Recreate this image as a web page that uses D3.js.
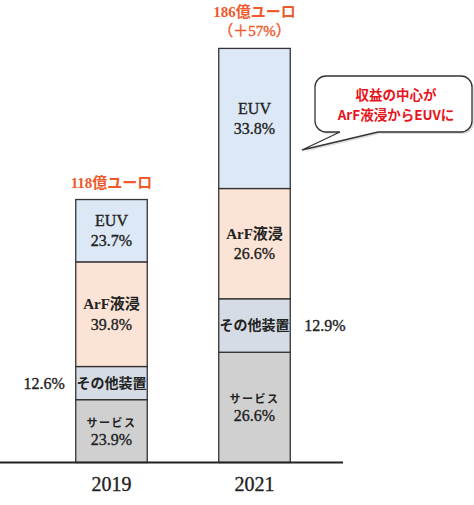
<!DOCTYPE html>
<html>
<head>
<meta charset="utf-8">
<script src="https://cdn.jsdelivr.net/npm/d3@7"></script>
<style>
  html, body { margin: 0; padding: 0; background: #fff; }
  svg { display: block; }
  text { font-family: "Liberation Serif", "Noto Sans CJK JP", serif; }
  .heavy { stroke: #222; stroke-width: 0.35px; }
</style>
</head>
<body>
<script>
'use strict';
// years and totals (億ユーロ)
const years = ['2019', '2021'];
const totals = [118, 186];
const totalLabels = [['118億ユーロ'], ['186億ユーロ', '（＋57%）']];

// segments, bottom to top, share in %
const segments = ['サービス', 'その他装置', 'ArF液浸', 'EUV'];
const share2019 = [23.9, 12.6, 39.8, 23.7];
const share2021 = [26.6, 12.9, 26.6, 33.8];
const colors = ['#d0d0d0', '#d6dce5', '#fbe4d5', '#dce8f5'];

const calloutLines = ['収益の中心が', 'ArF液浸からEUVに'];

const width = 474, height = 505;
const svg = d3.select('body').append('svg').attr('width', width).attr('height', height);

const x = d3.scaleBand().domain(years).range([40, 326]).paddingInner(0.5).paddingOuter(0.25);
const y = d3.scaleLinear().domain([0, 186]).range([462.5, 48]);

const shares = [share2019, share2021];
const rows = [];
years.forEach(function(yr, i){
  let base = 0;
  shares[i].forEach(function(p, j){
    const v = totals[i] * p / 100;
    rows.push({year: yr, seg: segments[j], pct: p, y0: base, y1: base + v, k: j, i: i});
    base += v;
  });
});

const bars = svg.append('g');
bars.selectAll('rect').data(rows).enter().append('rect')
  .attr('x', function(d){ return x(d.year); })
  .attr('y', function(d){ return y(d.y1); })
  .attr('width', x.bandwidth())
  .attr('height', function(d){ return y(d.y0) - y(d.y1); })
  .attr('fill', function(d){ return colors[d.k]; })
  .attr('stroke', '#333')
  .attr('stroke-width', 1.3);

// labels inside / beside bars
const lab = svg.append('g').attr('fill', '#222').attr('text-anchor', 'middle');
rows.forEach(function(d){
  const cx = x(d.year) + x.bandwidth() / 2;
  const cy = (y(d.y0) + y(d.y1)) / 2;
  const pctTxt = d.pct.toFixed(1) + '%';
  if (d.seg === 'その他装置') {
    lab.append('text').attr('x', cx).attr('y', cy).attr('dy', '0.35em')
      .attr('font-size', 14).attr('font-weight', 'bold').text(d.seg);
    const ox = d.i === 0 ? x(d.year) - 11 : x(d.year) + x.bandwidth() + 14;
    lab.append('text').attr('class', 'heavy').attr('x', ox).attr('y', cy).attr('dy', '0.35em')
      .attr('text-anchor', d.i === 0 ? 'end' : 'start')
      .attr('font-size', 16).text(pctTxt);
  } else if (d.seg === 'サービス') {
    lab.append('text').attr('x', cx).attr('y', cy - 8).attr('dy', '0.35em')
      .attr('font-size', 11).attr('font-weight', 'bold').attr('letter-spacing', 1.5).text(d.seg);
    lab.append('text').attr('class', 'heavy').attr('x', cx).attr('y', cy + 8).attr('dy', '0.35em')
      .attr('font-size', 16).text(pctTxt);
  } else {
    const bold = d.seg === 'ArF液浸';
    lab.append('text').attr('class', bold ? null : 'heavy').attr('x', cx).attr('y', cy - 10).attr('dy', '0.35em')
      .attr('font-size', bold ? 15 : 16).attr('font-weight', bold ? 'bold' : 'normal').text(d.seg);
    lab.append('text').attr('class', 'heavy').attr('x', cx).attr('y', cy + 10).attr('dy', '0.35em')
      .attr('font-size', 16).text(pctTxt);
  }
});

// totals above bars
years.forEach(function(yr, i){
  const cx = x(yr) + x.bandwidth() / 2;
  const top = y(totals[i]);
  const lines = totalLabels[i];
  lines.forEach(function(t, j){
    svg.append('text').attr('x', cx).attr('y', top - 17 - (lines.length - 1 - j) * 19).attr('dy', '0.35em')
      .attr('text-anchor', 'middle').attr('fill', '#ef5a2c').attr('font-size', 15)
      .attr('stroke', '#ef5a2c').attr('stroke-width', j === 0 ? 0 : 0.4)
      .attr('font-weight', j === 0 ? 'bold' : 'normal').text(t);
  });
});

// baseline and year axis
const xAxis = d3.axisBottom(x).tickSize(0).tickPadding(14);
const ax = svg.append('g').attr('transform', 'translate(0,' + y(0) + ')').call(xAxis);
ax.select('.domain').attr('d', 'M0,0H343').attr('stroke', '#222').attr('stroke-width', 2);
ax.selectAll('text').attr('font-size', 20).attr('fill', '#222').attr('class', 'heavy')
  .attr('font-family', '"Liberation Serif", serif');

// callout bubble
const bx = 315, by = 76, bw = 157, bh = 56, r = 11;
const tip = [302, 150], t1 = 340, t2 = 378;
const p = d3.path();
p.moveTo(bx + r, by);
p.lineTo(bx + bw - r, by);
p.arcTo(bx + bw, by, bx + bw, by + r, r);
p.lineTo(bx + bw, by + bh - r);
p.arcTo(bx + bw, by + bh, bx + bw - r, by + bh, r);
p.lineTo(t2, by + bh);
p.lineTo(tip[0], tip[1]);
p.lineTo(t1, by + bh);
p.lineTo(bx + r, by + bh);
p.arcTo(bx, by + bh, bx, by + bh - r, r);
p.lineTo(bx, by + r);
p.arcTo(bx, by, bx + r, by, r);
p.closePath();
svg.append('path').attr('d', p.toString()).attr('transform', 'translate(2,2)')
  .attr('fill', '#c8c8c8').attr('opacity', 0.6);
svg.append('path').attr('d', p.toString()).attr('fill', '#fff')
  .attr('stroke', '#333').attr('stroke-width', 1.3);
calloutLines.forEach(function(t, j){
  svg.append('text').attr('x', 396).attr('y', 95 + j * 20).attr('dy', '0.35em')
    .attr('text-anchor', 'middle').attr('fill', '#e8141c').attr('font-size', 13.5)
    .attr('font-weight', 'bold').style('font-family', '"Noto Sans CJK JP", sans-serif').text(t);
});
</script>
</body>
</html>
